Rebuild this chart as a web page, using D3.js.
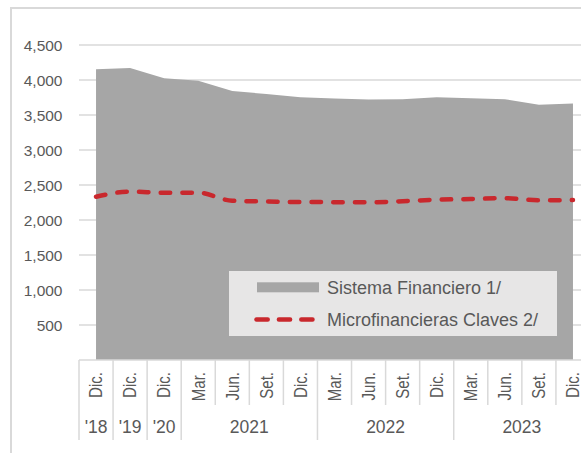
<!DOCTYPE html>
<html>
<head>
<meta charset="utf-8">
<script src="https://cdn.jsdelivr.net/npm/d3@7/dist/d3.min.js"></script>
<style>
  html, body { margin: 0; padding: 0; background: #fff; }
  svg { display: block; font-family: "Liberation Sans", Arial, sans-serif; }
</style>
</head>
<body>
<svg id="chart" width="581" height="453"></svg>
<script>
// ---- Data ----
const months = ["Dic.", "Dic.", "Dic.", "Mar.", "Jun.", "Set.", "Dic.", "Mar.", "Jun.", "Set.", "Dic.", "Mar.", "Jun.", "Set.", "Dic."];
const years = ["'18", "'19", "'20", "2021", "2021", "2021", "2021", "2022", "2022", "2022", "2022", "2023", "2023", "2023", "2023"];
const sistemaFinanciero = [4155, 4170, 4025, 3990, 3843, 3800, 3755, 3735, 3720, 3725, 3752, 3740, 3725, 3648, 3665];
const microfinancieras = [2333, 2405, 2390, 2390, 2275, 2265, 2257, 2255, 2252, 2268, 2290, 2300, 2312, 2282, 2286];
const yTicks = [500, 1000, 1500, 2000, 2500, 3000, 3500, 4000, 4500];
const seriesNames = ["Sistema Financiero 1/", "Microfinancieras Claves 2/"];

// ---- Setup ----
const svg = d3.select("#chart");
const textColor = "#595959";
const gridColor = "#d9d9d9";
const areaColor = "#a6a6a6";
const lineColor = "#c9282d";

const idx = d3.range(months.length);
const x = d3.scaleBand().domain(idx).range([79, 590]).padding(0);
const y = d3.scaleLinear().domain([0, 4500]).range([360, 45]);
const cx = i => x(i) + x.bandwidth() / 2;

// Outer frame (left & top edges visible)
svg.append("path")
  .attr("d", "M11,460 L11,8 L600,8")
  .attr("fill", "none").attr("stroke", gridColor).attr("stroke-width", 2);

// Gridlines
svg.append("g").selectAll("line").data(yTicks).join("line")
  .attr("x1", 79).attr("x2", 600)
  .attr("y1", d => y(d)).attr("y2", d => y(d))
  .attr("stroke", gridColor).attr("stroke-width", 1.5);

// Y labels
svg.append("g").selectAll("text").data(yTicks).join("text")
  .attr("x", 62.5).attr("y", d => y(d)).attr("dy", "0.36em")
  .attr("text-anchor", "end")
  .attr("font-size", "15.5px").attr("fill", textColor)
  .text(d => d3.format(",")(d));

// Area
const area = d3.area()
  .x((d, i) => cx(i)).y0(y(0)).y1(d => y(d));
svg.append("path").datum(sistemaFinanciero)
  .attr("d", area).attr("fill", areaColor);

// Axis line
svg.append("line")
  .attr("x1", 79).attr("x2", 600).attr("y1", y(0)).attr("y2", y(0))
  .attr("stroke", gridColor).attr("stroke-width", 1.5);

// Line
const line = d3.line().x((d, i) => cx(i)).y(d => y(d)).curve(d3.curveMonotoneX);
svg.append("path").datum(microfinancieras)
  .attr("d", line).attr("fill", "none")
  .attr("stroke", lineColor).attr("stroke-width", 4.5)
  .attr("stroke-linecap", "round")
  .attr("stroke-dasharray", "9.5,12.2");

// Category separators
const bounds = d3.range(months.length + 1);
const isYearBound = b => b === 0 || b === months.length || years[b] !== years[b - 1];
svg.append("g").selectAll("line").data(bounds).join("line")
  .attr("x1", b => 79 + b * x.bandwidth()).attr("x2", b => 79 + b * x.bandwidth())
  .attr("y1", y(0)).attr("y2", b => isYearBound(b) ? 440 : 405)
  .attr("stroke", gridColor).attr("stroke-width", 1.5);

// Month labels (rotated)
svg.append("g").selectAll("text").data(idx).join("text")
  .attr("transform", i => `translate(${cx(i)},372) rotate(-90) scale(0.86,1)`)
  .attr("dy", "0.36em")
  .attr("text-anchor", "end")
  .attr("font-size", "17.5px").attr("fill", textColor)
  .text(i => months[i]);

// Year labels
const yearGroups = [];
idx.forEach(i => {
  const last = yearGroups[yearGroups.length - 1];
  if (last && last.label === years[i]) last.end = i;
  else yearGroups.push({ label: years[i], start: i, end: i });
});
svg.append("g").selectAll("text").data(yearGroups).join("text")
  .attr("x", g => (x(g.start) + x(g.end) + x.bandwidth()) / 2)
  .attr("y", 433.3)
  .attr("text-anchor", "middle")
  .attr("font-size", "17.5px").attr("fill", textColor)
  .text(g => g.label);

// Legend
const lg = svg.append("g");
lg.append("rect").attr("x", 229).attr("y", 271).attr("width", 328).attr("height", 65)
  .attr("fill", "#e7e6e6");
lg.append("rect").attr("x", 257).attr("y", 282.3).attr("width", 62).attr("height", 10)
  .attr("fill", areaColor);
lg.append("line").attr("x1", 256.5).attr("x2", 312.5).attr("y1", 319.5).attr("y2", 319.5)
  .attr("stroke", lineColor).attr("stroke-width", 4.5)
  .attr("stroke-linecap", "round").attr("stroke-dasharray", "11.2,11.2");
lg.selectAll("text").data(seriesNames).join("text")
  .attr("x", 327).attr("y", (d, i) => i === 0 ? 287.3 : 320)
  .attr("dy", "0.36em")
  .attr("font-size", "18px").attr("fill", textColor)
  .text(d => d);
</script>
</body>
</html>
